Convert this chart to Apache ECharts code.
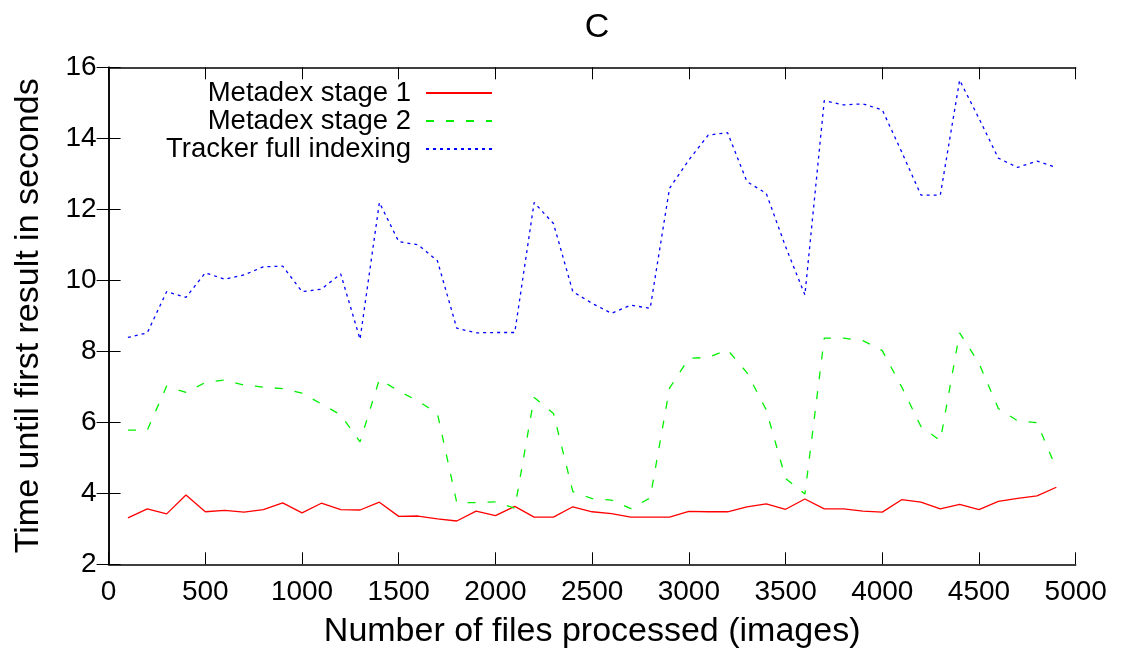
<!DOCTYPE html>
<html>
<head>
<meta charset="utf-8">
<script src="https://cdn.jsdelivr.net/npm/echarts@6/dist/echarts.min.js"></script>
<style>
  html, body { margin: 0; padding: 0; background: #fff; }
  #chart { width: 1127px; height: 654px; }
</style>
</head>
<body>
<div id="chart"></div>
<script>
// Number of files processed at each measurement
const filesProcessed = [100,200,300,400,500,600,700,800,900,1000,
  1100,1200,1300,1400,1500,1600,1700,1800,1900,2000,
  2100,2200,2300,2400,2500,2600,2700,2800,2900,3000,
  3100,3200,3300,3400,3500,3600,3700,3800,3900,4000,
  4100,4200,4300,4400,4500,4600,4700,4800,4900];

// Time until first result (seconds)
const metadexStage1 = [3.31,3.56,3.42,3.95,3.48,3.52,3.47,3.54,3.73,3.45,
  3.72,3.54,3.53,3.75,3.35,3.36,3.28,3.22,3.50,3.37,
  3.63,3.33,3.33,3.62,3.48,3.43,3.33,3.33,3.33,3.49,
  3.48,3.48,3.62,3.70,3.55,3.84,3.56,3.56,3.50,3.47,
  3.82,3.75,3.56,3.69,3.54,3.77,3.86,3.93,4.17];

const metadexStage2 = [5.78,5.78,7.02,6.84,7.12,7.19,7.05,6.99,6.95,6.82,
  6.52,6.21,5.45,7.21,6.88,6.60,6.25,3.74,3.74,3.76,
  3.58,6.70,6.25,4.05,3.85,3.81,3.57,3.87,6.96,7.80,
  7.83,8.04,7.40,6.35,4.42,3.98,8.37,8.37,8.30,8.02,
  7.00,5.88,5.48,8.52,7.66,6.39,6.04,5.99,4.70];

const trackerFull = [8.39,8.52,9.68,9.52,10.21,10.03,10.15,10.38,10.40,9.68,
  9.75,10.18,8.34,12.19,11.09,11.00,10.55,8.65,8.52,8.53,
  8.53,12.19,11.60,9.68,9.35,9.07,9.30,9.21,12.59,13.39,
  14.09,14.16,12.78,12.45,10.95,9.59,15.06,14.94,14.97,14.80,
  13.62,12.40,12.40,15.64,14.56,13.44,13.18,13.36,13.18];

const seriesNames = ['Metadex stage 1', 'Metadex stage 2', 'Tracker full indexing'];

const FONT = '"Liberation Sans", Arial, Helvetica, sans-serif';

function pairs(ys) {
  return filesProcessed.map((x, i) => [x, ys[i]]);
}

const plainNumber = v => String(v);
const frameLine = { show: true, lineStyle: { color: '#000', width: 1.5 } };
const innerTick = { show: true, inside: true, length: 12, lineStyle: { color: '#000', width: 1 } };

const chart = echarts.init(document.getElementById('chart'), null, { renderer: 'canvas' });

chart.setOption({
  backgroundColor: '#fff',
  animation: false,
  title: {
    text: 'C',
    left: 592,
    textAlign: 'center',
    top: 6,
    textStyle: { fontFamily: FONT, fontSize: 34, fontWeight: 'normal', color: '#000' }
  },
  legend: {
    orient: 'vertical',
    align: 'right',
    right: 629,
    top: 74,
    itemWidth: 66,
    itemHeight: 14,
    itemGap: 0,
    data: seriesNames,
    itemStyle: { opacity: 0 },
    textStyle: {
      fontFamily: FONT, fontSize: 27.5, color: '#000',
      lineHeight: 27.5, padding: [0, 10, 0, 0]
    }
  },
  grid: { left: 108.6, right: 51.3, top: 67.3, bottom: 89.7, containLabel: false },
  xAxis: [{
    type: 'value', position: 'bottom', min: 0, max: 5000, interval: 500,
    name: 'Number of files processed (images)',
    nameLocation: 'middle', nameGap: 50,
    nameTextStyle: { fontFamily: FONT, fontSize: 34, color: '#000' },
    axisLine: frameLine, axisTick: innerTick,
    axisLabel: { fontFamily: FONT, fontSize: 28, color: '#000', margin: 14, formatter: plainNumber },
    splitLine: { show: false }
  }, {
    type: 'value', position: 'top', min: 0, max: 5000, interval: 500,
    axisLine: frameLine, axisTick: innerTick,
    axisLabel: { show: false }, splitLine: { show: false }
  }],
  yAxis: [{
    type: 'value', position: 'left', min: 2, max: 16, interval: 2,
    name: 'Time until first result in seconds',
    nameLocation: 'middle', nameGap: 63,
    nameTextStyle: { fontFamily: FONT, fontSize: 34, color: '#000' },
    axisLine: frameLine, axisTick: innerTick,
    axisLabel: { fontFamily: FONT, fontSize: 28, color: '#000', margin: 12, formatter: plainNumber },
    splitLine: { show: false }
  }, {
    type: 'value', position: 'right', min: 2, max: 16, interval: 2,
    axisLine: frameLine, axisTick: innerTick,
    axisLabel: { show: false }, splitLine: { show: false }
  }],
  series: [{
    name: seriesNames[0], type: 'line', data: pairs(metadexStage1),
    symbol: 'none', color: '#ff0000',
    lineStyle: { color: '#ff0000', width: 1.3, type: 'solid' }
  }, {
    name: seriesNames[1], type: 'line', data: pairs(metadexStage2),
    symbol: 'none', color: '#00f000',
    lineStyle: { color: '#00f000', width: 1.3, type: [8, 12] }
  }, {
    name: seriesNames[2], type: 'line', data: pairs(trackerFull),
    symbol: 'none', color: '#0000ff',
    lineStyle: { color: '#0000ff', width: 1.3, type: [3, 4] }
  }]
});
</script>
</body>
</html>
